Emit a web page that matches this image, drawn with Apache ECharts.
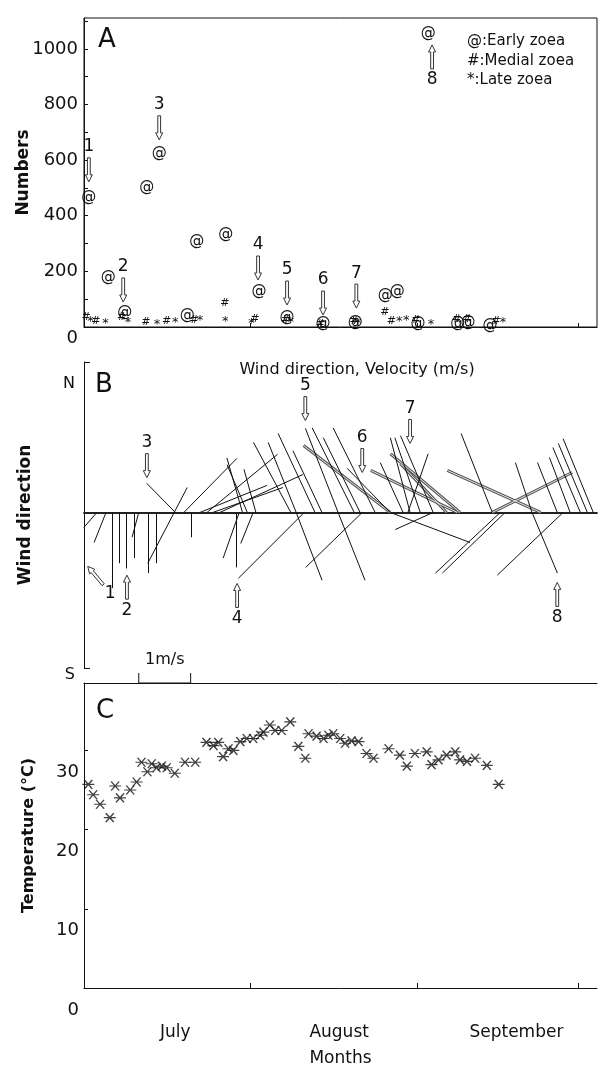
<!DOCTYPE html>
<html>
<head>
<meta charset="utf-8">
<script src="https://cdn.jsdelivr.net/npm/echarts@6/dist/echarts.min.js"></script>
<style>
  html, body { margin: 0; padding: 0; background: #fff; }
  #chart { width: 599px; height: 1068px; }
</style>
</head>
<body>
<div id="chart"></div>
<script>
// days counted from July 1
const X_MAX = 95.5
const MONTH_TICKS = [31, 62, 92]
const MONTH_LABEL_POS = [17, 47.5, 80.5]
const MONTH_NAMES = ['July', 'August', 'September']

// A: numbers of zoea  [day, number]
const earlyZoea = [
  [0.9, 468], [4.5, 180], [7.6, 54], [11.7, 504], [14.0, 626], [19.2, 43], [21.0, 309],
  [26.4, 335], [32.6, 130], [37.8, 36], [44.5, 14], [50.5, 18], [56.1, 115], [58.3, 130],
  [62.2, 14], [64.1, 1058], [69.6, 14], [71.5, 18], [75.6, 7]
]
const medialZoea = [
  [0.4, 35], [2.2, 22], [7.0, 35], [11.5, 18], [15.4, 22], [20.5, 25], [26.2, 86], [31.8, 28],
  [37.5, 25], [44.0, 12], [50.3, 22], [56.0, 55], [57.2, 22], [61.8, 25], [69.4, 30], [71.3, 30], [76.7, 22]
]
const lateZoea = [
  [1.2, 20], [4.0, 12], [8.2, 15], [13.6, 10], [17.0, 15], [21.6, 22], [26.3, 20], [31.2, 12],
  [38.5, 15], [51.0, 12], [58.7, 20], [60.0, 22], [64.6, 10], [78.0, 16]
]
// numbered arrows: [label, day, value, direction of tail in degrees (0 = above)]
const arrowsA = [
  ['1', 0.9, 522, 0], ['2', 7.3, 90, 0], ['3', 14.0, 673, 0], ['4', 32.4, 169, 0],
  ['5', 37.8, 79, 0], ['6', 44.5, 43, 0], ['7', 50.7, 68, 0], ['8', 64.8, 1014, 180]
]

// B: wind sticks  [day, u (m/s), v (m/s)]
const windSticks = [
  [2.4, -0.25, -0.29], [4.1, -0.23, -0.58], [5.2, 0, -1.46], [6.5, 0, -0.98], [7.8, 0, -1.08],
  [9.3, 0, -0.88], [10.2, -0.13, -0.48], [11.9, 0, -1.17], [13.4, 0, -0.98], [16.8, -0.51, -0.98],
  [19.9, 0, -0.48], [28.3, 0, -1.06], [28.9, -0.31, -0.88], [31.5, -0.24, -0.60], [41.0, -1.27, -1.27],
  [39.5, 0.50, -1.31], [51.8, -1.09, -1.06], [47.3, 0.52, -1.31], [57.0, 1.54, -0.58], [65.0, -0.73, -0.33],
  [77.5, -1.25, -1.17], [78.4, -1.21, -1.17], [89.2, -1.27, -1.21], [83.4, 0.49, -1.17],
  [17.0, -0.55, 0.56], [16.8, 0.25, 0.48], [18.6, 1.02, 1.04], [21.6, 1.29, 0.52], [22.9, 1.36, 1.12],
  [24.0, 1.35, 0.48], [25.3, 1.60, 0.73], [29.5, -0.30, 1.05], [30.4, -0.39, 0.92], [32.0, -0.23, 0.83],
  [38.5, -0.72, 1.35], [39.5, -0.54, 1.35], [43.0, -0.71, 1.52], [44.3, -0.56, 1.19], [47.3, -0.63, 1.62],
  [50.3, -0.81, 1.63], [51.4, -0.71, 1.44], [54.2, -0.81, 1.63], [57.0, -0.83, 0.85], [59.4, -0.44, 0.96],
  [60.7, -0.38, 1.44], [62.6, -0.49, 1.44], [65.0, -0.63, 1.48], [60.3, 0.39, 1.13], [76.0, -0.60, 1.52],
  [83.4, -0.32, 0.96], [88.1, -0.38, 0.96], [90.5, -0.40, 1.06], [92.4, -0.53, 1.25], [93.7, -0.56, 1.33],
  [94.8, -0.58, 1.42]
]
const windSticksGrey = [
  [57.0, -1.67, 1.29], [69.5, -1.67, 0.81], [85.0, -1.80, 0.81], [76.0, 1.54, 0.77],
  [70.0, -1.34, 1.13], [67.5, -0.89, 0.94]
]
const arrowsB = [
  ['1', 0.7, -1.04, 140], ['2', 8.0, -1.21, 180], ['3', 11.7, 0.67, 0], ['4', 28.5, -1.37, 180],
  ['5', 41.2, 1.77, 0], ['6', 51.8, 0.77, 0], ['7', 60.7, 1.33, 0], ['8', 88.1, -1.35, 180]
]
const SCALE_BAR_DAY = 10.2

// C: water temperature  [day, degC]
const temperature = [
  [0.8, 25.7], [1.7, 24.4], [3.0, 23.2], [4.8, 21.5], [5.8, 25.5], [6.7, 24.0], [8.6, 25.0], [9.8, 26.0],
  [10.7, 28.5], [11.8, 27.3], [12.6, 28.3], [13.5, 27.8], [14.5, 28.0], [15.4, 27.8], [16.9, 27.1],
  [18.8, 28.5], [20.7, 28.5], [22.8, 31.0], [24.1, 30.6], [25.0, 31.0], [25.9, 29.2], [26.9, 30.2],
  [27.8, 30.0], [29.1, 31.1], [30.3, 31.5], [31.5, 31.5], [32.8, 31.9], [33.4, 32.3], [34.6, 33.2],
  [35.6, 32.5], [36.8, 32.5], [38.4, 33.6], [39.9, 30.5], [41.2, 29.0], [41.8, 32.1], [43.3, 31.8],
  [44.6, 31.5], [45.5, 31.9], [46.4, 32.1], [47.7, 31.5], [48.6, 30.9], [49.8, 31.2], [51.1, 31.1],
  [52.6, 29.6], [53.9, 29.0], [56.7, 30.2], [58.8, 29.4], [60.1, 28.0], [61.6, 29.6], [63.8, 29.8],
  [64.7, 28.2], [66.0, 28.8], [67.5, 29.4], [69.1, 29.8], [70.0, 28.8], [71.3, 28.6], [72.8, 29.0],
  [75.0, 28.1], [77.2, 25.7]
]

// layout
const FONT = 'DejaVu Sans'
const INK = '#111'
const LEFT = 84, RIGHT = 2, PLOT_W = 599 - LEFT - RIGHT
const A_TOP = 18, A_H = 309
const B_TOP = 362, B_H = 306
const C_TOP = 683, C_H = 308
const NUM_MAX = 1111
const WIND_MIN = -3, WIND_MAX = 2.9
const TEMP_MAX = 38.5
// sticks are drawn with equal px per m/s on both directions
const DAYS_PER_MS = (B_H / (WIND_MAX - WIND_MIN)) / (PLOT_W / X_MAX)

const chart = echarts.init(document.getElementById('chart'))

function glyphSeries(data, glyph, size) {
  return {
    type: 'custom', xAxisIndex: 0, yAxisIndex: 0, data: data, silent: true, z: 5,
    renderItem: function(params, api) {
      const p = api.coord([api.value(0), api.value(1)])
      return {
        type: 'text', x: p[0], y: p[1],
        style: { text: glyph, fill: INK, fontSize: size, fontFamily: FONT, align: 'center', verticalAlign: 'middle' }
      }
    }
  }
}

function arrowSeries(list, xi, yi) {
  return {
    type: 'custom', xAxisIndex: xi, yAxisIndex: yi, silent: true, z: 6,
    data: list.map(a => [a[1], a[2], a[3]]),
    renderItem: function(params, api) {
      const tip = api.coord([api.value(0), api.value(1)])
      const th = api.value(2) * Math.PI / 180
      const dx = Math.sin(th), dy = -Math.cos(th)
      const P = (a, b) => [tip[0] + a * dx - b * dy, tip[1] + a * dy + b * dx]
      const pts = [P(0, 0), P(7, 3.5), P(7, 1.4), P(24, 1.4), P(24, -1.4), P(7, -1.4), P(7, -3.5)]
      const lab = P(35, 0)
      return {
        type: 'group',
        children: [
          { type: 'polygon', shape: { points: pts }, style: { fill: '#fff', stroke: '#333', lineWidth: 1 } },
          {
            type: 'text', x: lab[0], y: lab[1],
            style: { text: list[params.dataIndex][0], fill: INK, fontSize: 17, fontFamily: FONT, align: 'center', verticalAlign: 'middle' }
          }
        ]
      }
    }
  }
}

function stickLines(list) {
  return list.map(s => ({ coords: [[s[0], 0], [s[0] + s[1] * DAYS_PER_MS, s[2]]] }))
}

const axisLineStyle = { color: INK, width: 1 }
const plainX = {
  type: 'value', min: 0, max: X_MAX,
  axisLabel: { show: false }, axisTick: { show: false }, splitLine: { show: false }
}

chart.setOption({
  animation: false,
  backgroundColor: '#fff',
  textStyle: { fontFamily: FONT, color: INK },
  grid: [
    { left: LEFT, right: RIGHT, top: A_TOP, height: A_H, show: true, borderColor: INK, borderWidth: 1 },
    { left: LEFT, right: RIGHT, top: B_TOP, height: B_H },
    { left: LEFT, right: RIGHT, top: C_TOP, height: C_H }
  ],
  xAxis: [
    Object.assign({}, plainX, {
      gridIndex: 0,
      axisLine: { onZero: false, lineStyle: axisLineStyle },
      axisTick: { show: true, customValues: MONTH_TICKS, inside: true, length: 4, lineStyle: axisLineStyle }
    }),
    Object.assign({}, plainX, {
      gridIndex: 1,
      axisLine: { onZero: true, lineStyle: { color: '#222', width: 1.8 } }
    }),
    Object.assign({}, plainX, {
      gridIndex: 2,
      axisLine: { onZero: false, lineStyle: axisLineStyle },
      axisTick: { show: true, customValues: MONTH_TICKS, inside: true, length: 5, lineStyle: axisLineStyle },
      axisLabel: {
        show: true, customValues: MONTH_LABEL_POS, margin: 36, fontSize: 17, color: INK,
        formatter: v => MONTH_NAMES[MONTH_LABEL_POS.indexOf(v)] || ''
      },
      name: 'Months', nameLocation: 'middle', nameGap: 62,
      nameTextStyle: { fontSize: 17, color: INK }
    }),
    Object.assign({}, plainX, {
      gridIndex: 2, position: 'top',
      axisLine: { onZero: false, lineStyle: axisLineStyle }
    })
  ],
  yAxis: [
    {
      gridIndex: 0, type: 'value', min: 0, max: NUM_MAX, interval: 100,
      axisLine: { show: true, lineStyle: axisLineStyle },
      axisTick: { show: true, inside: true, length: 4, lineStyle: axisLineStyle },
      axisLabel: {
        color: INK, fontSize: 18, margin: 6, showMaxLabel: false,
        formatter: v => v === 0 ? '{z|0}' : (v % 200 === 0 && v <= 1000 ? String(v) : ''),
        rich: { z: { fontSize: 18, color: INK, padding: [22, 0, 0, 0] } }
      },
      splitLine: { show: false },
      name: 'Numbers', nameLocation: 'middle', nameGap: 52, nameRotate: 90, nameMoveOverlap: false,
      nameTextStyle: { fontSize: 17, fontWeight: 'bold', color: INK }
    },
    {
      gridIndex: 1, type: 'value', min: WIND_MIN, max: WIND_MAX,
      axisLine: { show: true, lineStyle: axisLineStyle },
      axisTick: { show: true, customValues: [WIND_MIN, WIND_MAX], inside: true, length: 6, lineStyle: axisLineStyle },
      axisLabel: {
        customValues: [WIND_MIN, WIND_MAX], color: INK, fontSize: 16, margin: 9,
        formatter: v => v > 0 ? '{n|N}' : '{s|S}',
        rich: {
          n: { fontSize: 16, color: INK, padding: [44, 0, 0, 0] },
          s: { fontSize: 16, color: INK, padding: [14, 0, 0, 0] }
        }
      },
      splitLine: { show: false },
      name: 'Wind direction', nameLocation: 'middle', nameGap: 50, nameRotate: 90,
      nameTextStyle: { fontSize: 17, fontWeight: 'bold', color: INK }
    },
    {
      gridIndex: 2, type: 'value', min: 0, max: TEMP_MAX, interval: 10,
      axisLine: { show: true, lineStyle: axisLineStyle },
      axisTick: { show: true, inside: true, length: 4, lineStyle: axisLineStyle },
      axisLabel: {
        color: INK, fontSize: 18, margin: 5, showMaxLabel: false,
        formatter: v => v > 35 ? '' : '{t|' + v + '}',
        rich: { t: { fontSize: 18, color: INK, padding: [44, 0, 0, 0] } }
      },
      splitLine: { show: false },
      name: 'Temperature (°C)', nameLocation: 'middle', nameGap: 47, nameRotate: 90,
      nameTextStyle: { fontSize: 16, fontWeight: 'bold', color: INK }
    }
  ],
  series: [
    glyphSeries(lateZoea, '*', 13),
    glyphSeries(medialZoea, '#', 11),
    glyphSeries(earlyZoea, '@', 15),
    arrowSeries(arrowsA, 0, 0),
    {
      type: 'lines', coordinateSystem: 'cartesian2d', xAxisIndex: 1, yAxisIndex: 1, silent: true,
      data: stickLines(windSticksGrey), lineStyle: { color: '#555', width: 3, opacity: 1 }
    },
    {
      type: 'lines', coordinateSystem: 'cartesian2d', xAxisIndex: 1, yAxisIndex: 1, silent: true,
      data: stickLines(windSticksGrey), lineStyle: { color: '#e6e6e6', width: 1, opacity: 1 }
    },
    {
      type: 'lines', coordinateSystem: 'cartesian2d', xAxisIndex: 1, yAxisIndex: 1, silent: true,
      data: stickLines(windSticks), lineStyle: { color: INK, width: 1, opacity: 1 }
    },
    arrowSeries(arrowsB, 1, 1),
    {
      type: 'scatter', xAxisIndex: 2, yAxisIndex: 2, silent: true,
      data: temperature,
      symbol: 'path://M0,5L12,5M2,1L10,9M2,9L10,1',
      symbolSize: [12, 9],
      itemStyle: { color: 'rgba(0,0,0,0)', borderColor: INK, borderWidth: 1.3 }
    }
  ],
  graphic: [
    { id: 'lblA', type: 'text', left: 98, top: 27, style: { text: 'A', fontSize: 26, fontFamily: FONT, fill: INK } },
    { id: 'lblB', type: 'text', left: 95, top: 372, style: { text: 'B', fontSize: 26, fontFamily: FONT, fill: INK } },
    { id: 'lblC', type: 'text', left: 96, top: 698, style: { text: 'C', fontSize: 26, fontFamily: FONT, fill: INK } },
    { id: 'lg1', type: 'text', left: 467, top: 34, style: { text: '@:Early zoea', fontSize: 15, fontFamily: FONT, fill: INK } },
    { id: 'lg2', type: 'text', left: 467, top: 54, style: { text: '#:Medial zoea', fontSize: 15, fontFamily: FONT, fill: INK } },
    { id: 'lg3', type: 'text', left: 467, top: 73, style: { text: '*:Late zoea', fontSize: 15, fontFamily: FONT, fill: INK } },
    { id: 'wtitle', type: 'text', x: 357, y: 370, style: { text: 'Wind direction, Velocity (m/s)', fontSize: 16, fontFamily: FONT, fill: INK, align: 'center', verticalAlign: 'middle' } }
  ]
})

// 1 m/s scale bar, placed from the wind panel's own x scale
const bx1 = chart.convertToPixel({ xAxisIndex: 1 }, SCALE_BAR_DAY)
const bx2 = chart.convertToPixel({ xAxisIndex: 1 }, SCALE_BAR_DAY + DAYS_PER_MS)
chart.setOption({
  graphic: [
    { id: 'bar', type: 'polyline', shape: { points: [[bx1, C_TOP - 10], [bx1, C_TOP], [bx2, C_TOP], [bx2, C_TOP - 10]] }, style: { stroke: INK, lineWidth: 1, fill: null } },
    { id: 'barTxt', type: 'text', x: (bx1 + bx2) / 2, y: 660, style: { text: '1m/s', fontSize: 16, fontFamily: FONT, fill: INK, align: 'center', verticalAlign: 'middle' } }
  ]
})
</script>
</body>
</html>
